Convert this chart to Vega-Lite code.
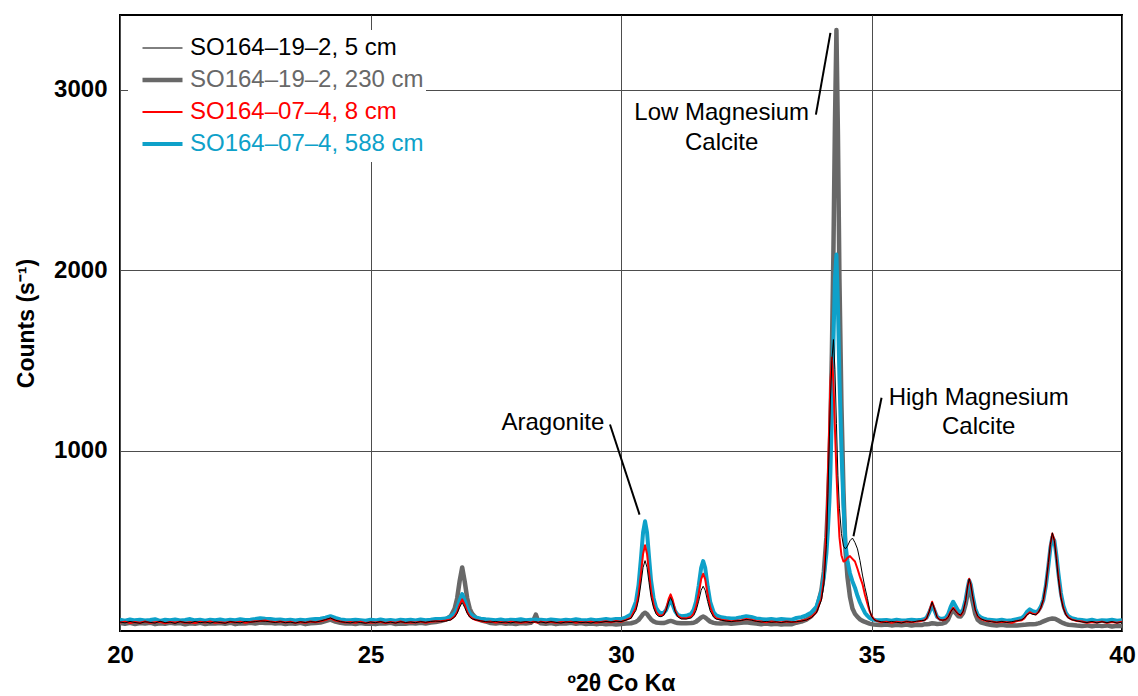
{
"$schema": "https://vega.github.io/schema/vega-lite/v6.json",
"width": 1002, "height": 616,
"autosize": {"type": "none"},
"padding": {"left": 120, "top": 15, "right": 16, "bottom": 65},
"background": "white",
"config": {
  "view": {"stroke": "#000000", "strokeWidth": 2},
  "font": "Liberation Sans",
  "axis": {"grid": true, "gridColor": "#4d4d4d", "gridWidth": 1, "ticks": false, "domain": false,
           "labelFont": "Liberation Sans", "labelFontSize": 24, "labelFontWeight": "bold", "labelColor": "#000000",
           "titleFont": "Liberation Sans", "titleFontSize": 23, "titleFontWeight": "bold", "titleColor": "#000000",
           "labelFlush": false, "labelOverlap": false}
},
"encoding": {
  "x": {"field": "x", "type": "quantitative", "scale": {"domain": [20, 40], "nice": false, "zero": false},
        "axis": {"values": [20, 25, 30, 35, 40], "format": "d", "labelPadding": 12, "title": "º2θ Co Kα", "titlePadding": 5}},
  "y": {"field": "y", "type": "quantitative", "scale": {"domain": [0, 3413], "nice": false},
        "axis": {"values": [1000, 2000, 3000], "format": "d", "labelPadding": 13, "title": "Counts (s⁻¹)", "titlePadding": 15}}
},
"layer": [
{
  "data": {"values": [
{"x":20.0,"a":50,"b":44,"c":47,"d":62},{"x":20.1,"a":45,"b":40,"c":52,"d":57},{"x":20.2,"a":53,"b":45,"c":44,"d":64},{"x":20.3,"a":47,"b":39,"c":50,"d":59},{"x":20.4,"a":43,"b":44,"c":46,"d":63},{"x":20.5,"a":51,"b":41,"c":53,"d":58},{"x":20.6,"a":48,"b":46,"c":45,"d":61},{"x":20.7,"a":44,"b":38,"c":49,"d":65},{"x":20.8,"a":54,"b":43,"c":51,"d":56},{"x":20.9,"a":46,"b":40,"c":43,"d":62},
{"x":21.0,"a":49,"b":45,"c":50,"d":60},{"x":21.1,"a":42,"b":41,"c":47,"d":64},{"x":21.2,"a":52,"b":44,"c":52,"d":58},{"x":21.3,"a":47,"b":37,"c":46,"d":61},{"x":21.4,"a":45,"b":43,"c":49,"d":66},{"x":21.5,"a":53,"b":40,"c":44,"d":59},{"x":21.6,"a":46,"b":45,"c":51,"d":62},{"x":21.7,"a":50,"b":39,"c":47,"d":57},{"x":21.8,"a":44,"b":43,"c":53,"d":63},{"x":21.9,"a":51,"b":41,"c":45,"d":60},
{"x":22.0,"a":47,"b":44,"c":49,"d":64},{"x":22.1,"a":43,"b":40,"c":46,"d":58},{"x":22.2,"a":52,"b":46,"c":51,"d":62},{"x":22.3,"a":48,"b":38,"c":47,"d":60},{"x":22.4,"a":45,"b":43,"c":52,"d":65},{"x":22.5,"a":53,"b":41,"c":46,"d":61},{"x":22.6,"a":49,"b":45,"c":50,"d":63},{"x":22.7,"a":52,"b":42,"c":54,"d":66},{"x":22.8,"a":56,"b":47,"c":55,"d":71},{"x":22.9,"a":54,"b":44,"c":58,"d":68},
{"x":23.0,"a":51,"b":46,"c":52,"d":67},{"x":23.1,"a":47,"b":41,"c":49,"d":62},{"x":23.2,"a":52,"b":44,"c":53,"d":64},{"x":23.3,"a":46,"b":39,"c":47,"d":60},{"x":23.4,"a":49,"b":43,"c":51,"d":63},{"x":23.5,"a":44,"b":40,"c":45,"d":58},{"x":23.6,"a":51,"b":45,"c":50,"d":62},{"x":23.7,"a":47,"b":38,"c":46,"d":60},{"x":23.8,"a":52,"b":43,"c":53,"d":64},{"x":23.9,"a":49,"b":44,"c":49,"d":66},
{"x":24.0,"a":55,"b":47,"c":54,"d":68},{"x":24.1,"a":63,"b":55,"c":61,"d":74},{"x":24.2,"a":72,"b":63,"c":70,"d":82},{"x":24.3,"a":60,"b":52,"c":58,"d":72},{"x":24.4,"a":52,"b":45,"c":53,"d":64},{"x":24.5,"a":48,"b":41,"c":47,"d":61},{"x":24.6,"a":45,"b":43,"c":50,"d":59},{"x":24.7,"a":51,"b":39,"c":46,"d":63},{"x":24.8,"a":47,"b":44,"c":52,"d":60},{"x":24.9,"a":43,"b":40,"c":45,"d":57},
{"x":25.0,"a":50,"b":42,"c":49,"d":62},{"x":25.1,"a":46,"b":38,"c":47,"d":59},{"x":25.2,"a":52,"b":43,"c":51,"d":64},{"x":25.3,"a":45,"b":41,"c":44,"d":58},{"x":25.4,"a":49,"b":45,"c":50,"d":61},{"x":25.5,"a":44,"b":39,"c":46,"d":57},{"x":25.6,"a":51,"b":42,"c":53,"d":62},{"x":25.7,"a":47,"b":40,"c":45,"d":60},{"x":25.8,"a":50,"b":44,"c":49,"d":63},{"x":25.9,"a":46,"b":41,"c":47,"d":58},
{"x":26.0,"a":52,"b":45,"c":52,"d":64},{"x":26.1,"a":48,"b":42,"c":46,"d":60},{"x":26.2,"a":53,"b":47,"c":51,"d":62},{"x":26.3,"a":55,"b":50,"c":54,"d":66},{"x":26.4,"a":53,"b":55,"c":54,"d":67},{"x":26.5,"a":55,"b":63,"c":58,"d":69},{"x":26.6,"a":61,"b":82,"c":64,"d":80},{"x":26.68,"a":77,"b":124,"c":82,"d":98},{"x":26.73,"a":98,"b":182,"c":105,"d":125},{"x":26.78,"a":132,"b":278,"c":145,"d":170},
{"x":26.83,"a":158,"b":352,"c":175,"d":205},{"x":26.88,"a":130,"b":275,"c":146,"d":168},{"x":26.93,"a":98,"b":182,"c":105,"d":125},{"x":26.98,"a":77,"b":124,"c":82,"d":98},{"x":27.03,"a":67,"b":95,"c":70,"d":85},{"x":27.1,"a":62,"b":73,"c":61,"d":75},{"x":27.2,"a":56,"b":59,"c":55,"d":68},{"x":27.3,"a":52,"b":53,"c":50,"d":65},{"x":27.4,"a":49,"b":44,"c":52,"d":63},{"x":27.5,"a":53,"b":41,"c":47,"d":60},
{"x":27.6,"a":47,"b":45,"c":50,"d":64},{"x":27.7,"a":50,"b":40,"c":46,"d":59},{"x":27.8,"a":45,"b":43,"c":51,"d":62},{"x":27.9,"a":51,"b":39,"c":48,"d":61},{"x":28.0,"a":48,"b":44,"c":45,"d":65},{"x":28.1,"a":52,"b":42,"c":50,"d":60},{"x":28.2,"a":46,"b":45,"c":47,"d":63},{"x":28.25,"a":49,"b":58,"c":51,"d":61},{"x":28.3,"a":51,"b":91,"c":49,"d":64},{"x":28.35,"a":47,"b":52,"c":46,"d":60},
{"x":28.4,"a":50,"b":43,"c":52,"d":62},{"x":28.5,"a":45,"b":40,"c":47,"d":59},{"x":28.6,"a":52,"b":44,"c":51,"d":64},{"x":28.7,"a":48,"b":38,"c":45,"d":61},{"x":28.8,"a":44,"b":43,"c":50,"d":58},{"x":28.9,"a":50,"b":41,"c":48,"d":63},{"x":29.0,"a":47,"b":45,"c":52,"d":60},{"x":29.1,"a":52,"b":40,"c":46,"d":65},{"x":29.2,"a":46,"b":44,"c":50,"d":61},{"x":29.3,"a":49,"b":39,"c":47,"d":59},
{"x":29.4,"a":44,"b":42,"c":51,"d":64},{"x":29.5,"a":51,"b":38,"c":46,"d":60},{"x":29.6,"a":48,"b":41,"c":50,"d":63},{"x":29.7,"a":53,"b":37,"c":54,"d":66},{"x":29.8,"a":50,"b":40,"c":49,"d":62},{"x":29.9,"a":54,"b":36,"c":55,"d":67},{"x":30.0,"a":52,"b":39,"c":51,"d":66},{"x":30.1,"a":60,"b":41,"c":62,"d":76},{"x":30.2,"a":70,"b":43,"c":74,"d":92},{"x":30.3,"a":115,"b":51,"c":130,"d":164},
{"x":30.35,"a":171,"b":61,"c":200,"d":254},{"x":30.4,"a":266,"b":78,"c":319,"d":407},{"x":30.44,"a":351,"b":94,"c":426,"d":545},{"x":30.48,"a":390,"b":101,"c":475,"d":608},{"x":30.52,"a":352,"b":94,"c":427,"d":545},{"x":30.56,"a":267,"b":78,"c":320,"d":408},{"x":30.6,"a":187,"b":64,"c":221,"d":279},{"x":30.65,"a":128,"b":53,"c":147,"d":182},{"x":30.7,"a":94,"b":47,"c":106,"d":129},{"x":30.75,"a":81,"b":45,"c":89,"d":107},
{"x":30.8,"a":79,"b":44,"c":85,"d":99},{"x":30.85,"a":86,"b":44,"c":91,"d":101},{"x":30.9,"a":112,"b":48,"c":121,"d":116},{"x":30.95,"a":161,"b":53,"c":176,"d":150},{"x":30.99,"a":185,"b":56,"c":203,"d":166},{"x":31.03,"a":160,"b":53,"c":174,"d":147},{"x":31.08,"a":108,"b":48,"c":116,"d":110},{"x":31.13,"a":79,"b":44,"c":84,"d":90},{"x":31.2,"a":67,"b":43,"c":71,"d":82},{"x":31.3,"a":66,"b":43,"c":70,"d":84},
{"x":31.4,"a":72,"b":44,"c":79,"d":95},{"x":31.45,"a":85,"b":46,"c":97,"d":118},{"x":31.5,"a":114,"b":52,"c":136,"d":165},{"x":31.55,"a":165,"b":63,"c":205,"d":249},{"x":31.6,"a":226,"b":75,"c":287,"d":350},{"x":31.64,"a":248,"b":80,"c":317,"d":387},{"x":31.68,"a":226,"b":75,"c":287,"d":350},{"x":31.73,"a":163,"b":63,"c":202,"d":247},{"x":31.78,"a":111,"b":52,"c":132,"d":161},{"x":31.85,"a":76,"b":45,"c":84,"d":103},
{"x":31.9,"a":66,"b":43,"c":71,"d":87},{"x":32.0,"a":60,"b":42,"c":62,"d":76},{"x":32.1,"a":55,"b":44,"c":58,"d":72},{"x":32.2,"a":52,"b":40,"c":54,"d":69},{"x":32.3,"a":56,"b":43,"c":57,"d":71},{"x":32.4,"a":58,"b":45,"c":60,"d":76},{"x":32.5,"a":64,"b":48,"c":66,"d":82},{"x":32.6,"a":60,"b":44,"c":62,"d":78},{"x":32.7,"a":54,"b":41,"c":55,"d":70},{"x":32.8,"a":50,"b":38,"c":52,"d":66},
{"x":32.9,"a":53,"b":41,"c":49,"d":64},{"x":33.0,"a":48,"b":37,"c":53,"d":67},{"x":33.1,"a":51,"b":40,"c":50,"d":63},{"x":33.2,"a":47,"b":36,"c":48,"d":66},{"x":33.3,"a":52,"b":39,"c":53,"d":64},{"x":33.4,"a":49,"b":37,"c":50,"d":62},{"x":33.5,"a":52,"b":46,"c":51,"d":72},{"x":33.6,"a":55,"b":52,"c":57,"d":77},{"x":33.7,"a":61,"b":63,"c":62,"d":87},{"x":33.8,"a":74,"b":82,"c":77,"d":103},
{"x":33.9,"a":100,"b":118,"c":104,"d":134},{"x":34.0,"a":170,"b":225,"c":180,"d":218},{"x":34.05,"a":260,"b":330,"c":290,"d":300},{"x":34.1,"a":480,"b":520,"c":560,"d":430},{"x":34.13,"a":760,"b":700,"c":860,"d":560},{"x":34.16,"a":1080,"b":930,"c":1170,"d":720},{"x":34.18,"a":1280,"b":1140,"c":1380,"d":880},{"x":34.21,"a":1500,"b":1550,"c":1515,"d":1220},{"x":34.24,"a":1615,"b":2100,"c":1380,"d":1600},{"x":34.27,"a":1450,"b":2800,"c":1120,"d":1950},
{"x":34.3,"a":1150,"b":3330,"c":880,"d":2086},{"x":34.33,"a":860,"b":2750,"c":680,"d":1800},{"x":34.36,"a":680,"b":1950,"c":520,"d":1400},{"x":34.4,"a":540,"b":1250,"c":420,"d":1000},{"x":34.44,"a":470,"b":780,"c":385,"d":700},{"x":34.48,"a":455,"b":450,"c":390,"d":480},{"x":34.52,"a":470,"b":300,"c":405,"d":390},{"x":34.57,"a":500,"b":190,"c":415,"d":320},{"x":34.62,"a":515,"b":125,"c":400,"d":275},{"x":34.67,"a":490,"b":95,"c":385,"d":240},
{"x":34.72,"a":455,"b":78,"c":345,"d":195},{"x":34.77,"a":390,"b":65,"c":300,"d":158},{"x":34.82,"a":310,"b":56,"c":260,"d":128},{"x":34.87,"a":240,"b":50,"c":200,"d":100},{"x":34.92,"a":180,"b":45,"c":150,"d":84},{"x":34.96,"a":120,"b":41,"c":112,"d":73},{"x":35.0,"a":82,"b":38,"c":85,"d":66},{"x":35.05,"a":63,"b":36,"c":65,"d":62},{"x":35.1,"a":56,"b":35,"c":56,"d":60},{"x":35.2,"a":51,"b":33,"c":48,"d":59},
{"x":35.3,"a":47,"b":36,"c":52,"d":61},{"x":35.4,"a":53,"b":31,"c":46,"d":57},{"x":35.5,"a":48,"b":35,"c":51,"d":62},{"x":35.6,"a":45,"b":32,"c":47,"d":58},{"x":35.7,"a":52,"b":36,"c":53,"d":60},{"x":35.8,"a":49,"b":30,"c":48,"d":63},{"x":35.9,"a":54,"b":34,"c":52,"d":59},{"x":36.0,"a":58,"b":33,"c":56,"d":62},{"x":36.05,"a":58,"b":37,"c":59,"d":65},{"x":36.1,"a":69,"b":37,"c":70,"d":74},
{"x":36.15,"a":106,"b":39,"c":108,"d":101},{"x":36.21,"a":160,"b":43,"c":162,"d":143},{"x":36.26,"a":119,"b":41,"c":121,"d":112},{"x":36.31,"a":75,"b":39,"c":76,"d":78},{"x":36.36,"a":62,"b":40,"c":63,"d":69},{"x":36.42,"a":60,"b":42,"c":60,"d":68},{"x":36.48,"a":63,"b":48,"c":64,"d":73},{"x":36.53,"a":76,"b":64,"c":78,"d":94},{"x":36.58,"a":106,"b":97,"c":108,"d":134},{"x":36.63,"a":126,"b":119,"c":129,"d":162},
{"x":36.68,"a":109,"b":99,"c":111,"d":137},{"x":36.73,"a":95,"b":82,"c":94,"d":112},{"x":36.78,"a":88,"b":80,"c":86,"d":100},{"x":36.83,"a":110,"b":100,"c":108,"d":120},{"x":36.88,"a":170,"b":150,"c":168,"d":175},{"x":36.92,"a":250,"b":210,"c":248,"d":240},{"x":36.95,"a":289,"b":236,"c":289,"d":280},{"x":36.98,"a":260,"b":215,"c":262,"d":258},{"x":37.02,"a":190,"b":160,"c":188,"d":195},{"x":37.07,"a":118,"b":95,"c":115,"d":125},
{"x":37.12,"a":82,"b":62,"c":80,"d":90},{"x":37.18,"a":68,"b":48,"c":66,"d":76},{"x":37.25,"a":60,"b":42,"c":59,"d":68},{"x":37.3,"a":56,"b":39,"c":55,"d":64},{"x":37.4,"a":51,"b":33,"c":53,"d":61},{"x":37.5,"a":48,"b":31,"c":47,"d":58},{"x":37.6,"a":53,"b":34,"c":51,"d":62},{"x":37.7,"a":47,"b":30,"c":49,"d":57},{"x":37.8,"a":52,"b":32,"c":46,"d":60},{"x":37.9,"a":56,"b":31,"c":55,"d":66},
{"x":38.0,"a":62,"b":33,"c":60,"d":72},{"x":38.05,"a":72,"b":34,"c":70,"d":84},{"x":38.1,"a":88,"b":36,"c":90,"d":105},{"x":38.16,"a":100,"b":38,"c":104,"d":120},{"x":38.22,"a":92,"b":37,"c":95,"d":110},{"x":38.28,"a":90,"b":39,"c":92,"d":105},{"x":38.33,"a":102,"b":42,"c":104,"d":112},{"x":38.38,"a":130,"b":47,"c":128,"d":135},{"x":38.43,"a":175,"b":53,"c":170,"d":172},{"x":38.48,"a":260,"b":59,"c":255,"d":250},
{"x":38.53,"a":380,"b":64,"c":375,"d":360},{"x":38.57,"a":480,"b":67,"c":478,"d":460},{"x":38.61,"a":544,"b":69,"c":540,"d":520},{"x":38.65,"a":500,"b":68,"c":505,"d":500},{"x":38.69,"a":400,"b":64,"c":410,"d":420},{"x":38.73,"a":290,"b":58,"c":300,"d":320},{"x":38.78,"a":185,"b":50,"c":190,"d":210},{"x":38.83,"a":125,"b":43,"c":128,"d":140},{"x":38.88,"a":90,"b":38,"c":92,"d":100},{"x":38.93,"a":72,"b":35,"c":74,"d":82},
{"x":39.0,"a":62,"b":33,"c":63,"d":71},{"x":39.1,"a":56,"b":30,"c":55,"d":64},{"x":39.2,"a":50,"b":28,"c":53,"d":61},{"x":39.3,"a":47,"b":31,"c":46,"d":57},{"x":39.4,"a":53,"b":26,"c":50,"d":62},{"x":39.5,"a":45,"b":30,"c":47,"d":56},{"x":39.6,"a":51,"b":27,"c":52,"d":60},{"x":39.7,"a":46,"b":31,"c":45,"d":58},{"x":39.8,"a":52,"b":25,"c":50,"d":62},{"x":39.9,"a":44,"b":29,"c":46,"d":57},
{"x":40.0,"a":49,"b":27,"c":51,"d":60}
  ]},
  "transform": [{"fold": ["b", "d", "c", "a"], "as": ["s", "y"]}],
  "mark": {"type": "line", "strokeJoin": "round", "clip": true},
  "encoding": {
    "color": {"field": "s", "type": "nominal",
      "scale": {"domain": ["a", "b", "c", "d"], "range": ["#000000", "#686868", "#ff0000", "#0ea1c9"]},
      "legend": {"title": null, "orient": "none", "legendX": 8, "legendY": 15, "fillColor": "white", "padding": 2,
        "symbolType": "stroke", "symbolSize": 1600, "symbolOffset": 10, "labelFont": "Liberation Sans", "labelFontSize": 24, "labelOffset": 5, "labelLimit": 400, "rowPadding": 0, "clipHeight": 32,
        "labelExpr": "datum.label == 'a' ? 'SO164–19–2, 5 cm' : datum.label == 'b' ? 'SO164–19–2, 230 cm' : datum.label == 'c' ? 'SO164–07–4, 8 cm' : 'SO164–07–4, 588 cm'",
        "encode": {"labels": {"update": {"fill": {"scale": "color", "field": "value"}}}}}},
    "strokeWidth": {"field": "s", "type": "nominal",
      "scale": {"type": "ordinal", "domain": ["a", "b", "c", "d"], "range": [1, 4.5, 2, 4]},
      "legend": {"title": null, "orient": "none", "legendX": 8, "legendY": 15, "fillColor": "white", "padding": 2,
        "symbolType": "stroke", "symbolSize": 1600, "symbolOffset": 10, "labelFont": "Liberation Sans", "labelFontSize": 24, "labelOffset": 5, "labelLimit": 400, "rowPadding": 0, "clipHeight": 32,
        "labelExpr": "datum.label == 'a' ? 'SO164–19–2, 5 cm' : datum.label == 'b' ? 'SO164–19–2, 230 cm' : datum.label == 'c' ? 'SO164–07–4, 8 cm' : 'SO164–07–4, 588 cm'",
        "encode": {"labels": {"update": {"fill": {"scale": "color", "field": "value"}}}}}}
  }
},
{
  "data": {"values": [
    {"x": 29.78, "y": 1144, "x2": 30.37, "y2": 645},
    {"x": 33.89, "y": 2861, "x2": 34.18, "y2": 3314},
    {"x": 35.20, "y": 1292, "x2": 34.64, "y2": 525}
  ]},
  "mark": {"type": "rule", "stroke": "#000000", "strokeWidth": 2},
  "encoding": {
    "x2": {"field": "x2"},
    "y2": {"field": "y2"}
  }
},
{
  "data": {"values": [
    {"x": 32.01, "y": 2871, "t": "Low Magnesium"},
    {"x": 32.01, "y": 2705, "t": "Calcite"},
    {"x": 28.64, "y": 1155, "t": "Aragonite"},
    {"x": 37.14, "y": 1292, "t": "High Magnesium"},
    {"x": 37.14, "y": 1131, "t": "Calcite"}
  ]},
  "mark": {"type": "text", "font": "Liberation Sans", "fontSize": 24, "align": "center", "baseline": "middle", "color": "#000000"},
  "encoding": {
    "text": {"field": "t"}
  }
}
]
}
